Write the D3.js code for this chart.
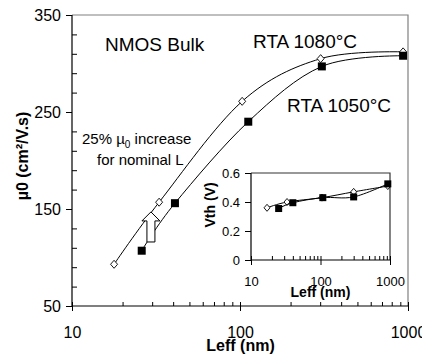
<!DOCTYPE html>
<html>
<head>
<meta charset="utf-8">
<script src="https://cdn.jsdelivr.net/npm/d3@7"></script>
<style>
  body { margin: 0; background: #fff; }
  svg { display: block; font-family: "Liberation Sans", Arial, sans-serif; }
</style>
</head>
<body>
<div id="chart"></div>
<script>
/* Data */
// main chart: mobility vs Leff
const leff1080 = [17.8, 33, 103, 302, 935];
const mu1080   = [93, 157, 261, 305, 312];
const leff1050 = [26, 41, 112, 307, 935];
const mu1050   = [107, 156, 240, 297, 308];

// inset: Vth vs Leff
const vthLeff1080 = [17, 33, 105, 300, 930];
const vth1080     = [0.36, 0.40, 0.43, 0.47, 0.51];
const vthLeff1050 = [25, 40, 108, 300, 930];
const vth1050     = [0.355, 0.395, 0.43, 0.435, 0.525];

// arrow "25% increase": at Leff, from mu to mu
const arrowLeff = 29.5;
const arrowMu = [116, 147];

// ticks
const muTicks = [50, 150, 250, 350];
const muMinor = [70, 90, 110, 130, 170, 190, 210, 230, 270, 290, 310, 330];
const leffTicks = [10, 100, 1000];
const leffMinor = [20, 30, 40, 50, 60, 70, 80, 90, 200, 300, 400, 500, 600, 700, 800, 900];
const vthTicks = [0, 0.2, 0.4, 0.6];

/* Canvas */
const W = 422, H = 356;
const plot  = { left: 72, right: 408, top: 15, bottom: 306 };
const inset = { left: 251, right: 390, top: 173, bottom: 260 };

const svg = d3.select("#chart")
    .append("svg")
    .attr("width", W)
    .attr("height", H);

/* Scales */
const xScale = d3.scaleLog().domain([10, 1000]).range([plot.left, plot.right]);
const yScale = d3.scaleLinear().domain([50, 350]).range([plot.bottom, plot.top]);
const ixScale = d3.scaleLog().domain([10, 1000]).range([inset.left, inset.right]);
const iyScale = d3.scaleLinear().domain([0, 0.6]).range([inset.bottom, inset.top]);

const smooth = d3.curveCatmullRom.alpha(0);

// axes helper: strips default font and styles the text
function styleAxis(g, size) {
    g.attr("font-family", null).attr("font-size", null);
    g.selectAll("text").attr("font-size", size + "px").attr("fill", "#000");
    g.selectAll("line").attr("stroke", "#000");
    g.selectAll(".domain").remove();
}

function drawFrame(xs, ys, box, yMaj, yMin, fontSize, xPad, borderColor) {
    // top + right border
    svg.append("path")
        .attr("d", `M${box.left},${box.top}H${box.right}V${box.bottom}`)
        .attr("fill", "none")
        .attr("stroke", borderColor)
        .attr("stroke-width", 1.2);

    // y axis majors (outside)
    svg.append("g")
        .attr("transform", `translate(${box.left},0)`)
        .call(d3.axisLeft(ys).tickValues(yMaj).tickSize(6).tickPadding(5)
            .tickFormat(d => d3.format("")(d)))
        .call(g => styleAxis(g, fontSize));
    if (yMin) {
        svg.append("g")
            .attr("transform", `translate(${box.left},0)`)
            .call(d3.axisLeft(ys).tickValues(yMin).tickSize(-5).tickFormat(""))
            .call(g => styleAxis(g, fontSize));
    }

    // x axis majors (crossing), minors inside
    svg.append("g")
        .attr("transform", `translate(0,${box.bottom})`)
        .call(d3.axisBottom(xs).tickValues(leffTicks).tickSize(5).tickPadding(xPad)
            .tickFormat(d3.format("")))
        .call(g => styleAxis(g, fontSize));
    svg.append("g")
        .attr("transform", `translate(0,${box.bottom})`)
        .call(d3.axisBottom(xs).tickValues(leffTicks.concat(leffMinor)).tickSize(-4).tickFormat(""))
        .call(g => styleAxis(g, fontSize));

    // axis lines
    svg.append("path")
        .attr("d", `M${box.left},${box.top}V${box.bottom}H${box.right}`)
        .attr("fill", "none")
        .attr("stroke", "#000")
        .attr("stroke-width", 1.2);
}

function drawSeries(xs, ys, lx, ly, filled, mSize) {
    const pts = lx.map((d, i) => [xs(d), ys(ly[i])]);
    svg.append("path")
        .datum(pts)
        .attr("d", d3.line().curve(smooth))
        .attr("fill", "none")
        .attr("stroke", "#000")
        .attr("stroke-width", 1);

    if (filled) {
        svg.selectAll(null)
            .data(pts)
            .enter()
            .append("rect")
            .attr("x", d => d[0] - mSize / 2)
            .attr("y", d => d[1] - mSize / 2)
            .attr("width", mSize)
            .attr("height", mSize)
            .attr("fill", "#000");
    } else {
        const s = mSize / 2;
        svg.selectAll(null)
            .data(pts)
            .enter()
            .append("path")
            .attr("d", d => `M${d[0]},${d[1] - s - 0.5}L${d[0] + s},${d[1]}L${d[0]},${d[1] + s + 0.5}L${d[0] - s},${d[1]}Z`)
            .attr("fill", "#fff")
            .attr("stroke", "#000")
            .attr("stroke-width", 0.9);
    }
}

/* Main chart */
drawFrame(xScale, yScale, plot, muTicks, muMinor, 16, 16, "#808080");
drawSeries(xScale, yScale, leff1080, mu1080, false, 7);
drawSeries(xScale, yScale, leff1050, mu1050, true, 8);

// hollow arrow
const ax = xScale(arrowLeff);
const ay0 = yScale(arrowMu[0]);
const ay1 = yScale(arrowMu[1]);
const headBase = ay1 + 9;
svg.append("path")
    .attr("d", `M${ax - 4},${ay0}V${headBase}H${ax - 9}L${ax},${ay1}L${ax + 9},${headBase}H${ax + 4}V${ay0}Z`)
    .attr("fill", "#fff")
    .attr("stroke", "#000")
    .attr("stroke-width", 1);

// axis titles
svg.append("text")
    .attr("x", (plot.left + plot.right) / 2 + 0.5)
    .attr("y", 351)
    .attr("text-anchor", "middle")
    .attr("font-size", "16px")
    .attr("font-weight", "bold")
    .text("Leff (nm)");

svg.append("text")
    .attr("transform", "translate(28,156) rotate(-90)")
    .attr("text-anchor", "middle")
    .attr("font-size", "16px")
    .attr("font-weight", "bold")
    .text("µ0 (cm²/V.s)");

// annotations
svg.append("text")
    .attr("x", 105).attr("y", 51)
    .attr("font-size", "19px")
    .text("NMOS Bulk");
svg.append("text")
    .attr("x", 253).attr("y", 48)
    .attr("font-size", "19px")
    .text("RTA 1080°C");
svg.append("text")
    .attr("x", 287).attr("y", 112)
    .attr("font-size", "19px")
    .text("RTA 1050°C");

const note = svg.append("text")
    .attr("x", 82).attr("y", 144)
    .attr("font-size", "15px");
note.append("tspan").text("25% µ");
note.append("tspan").attr("font-size", "10px").attr("dy", 4).text("0");
note.append("tspan").attr("dy", -4).text(" increase");
svg.append("text")
    .attr("x", 97).attr("y", 165)
    .attr("font-size", "15px")
    .text("for nominal L");

/* Inset chart */
svg.append("rect")
    .attr("x", inset.left).attr("y", inset.top)
    .attr("width", inset.right - inset.left)
    .attr("height", inset.bottom - inset.top)
    .attr("fill", "#fff");
drawFrame(ixScale, iyScale, inset, vthTicks, null, 13, 12, "#333");
drawSeries(ixScale, iyScale, vthLeff1080, vth1080, false, 6);
drawSeries(ixScale, iyScale, vthLeff1050, vth1050, true, 7);

svg.append("text")
    .attr("x", (inset.left + inset.right) / 2)
    .attr("y", 297)
    .attr("text-anchor", "middle")
    .attr("font-size", "14px")
    .attr("font-weight", "bold")
    .text("Leff (nm)");

svg.append("text")
    .attr("transform", "translate(215,205) rotate(-90)")
    .attr("text-anchor", "middle")
    .attr("font-size", "14px")
    .attr("font-weight", "bold")
    .text("Vth (V)");
</script>
</body>
</html>
